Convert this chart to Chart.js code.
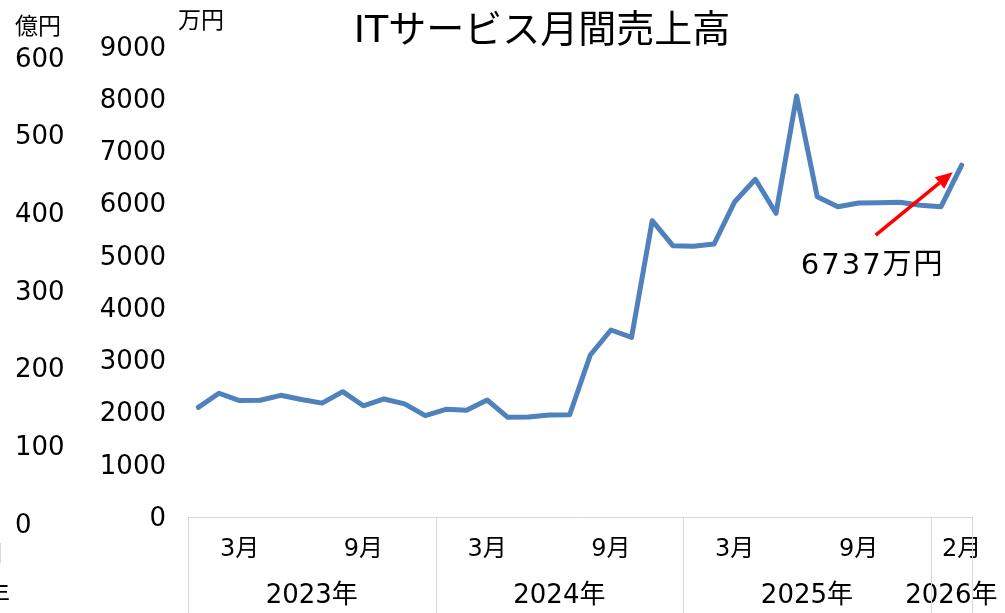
<!DOCTYPE html>
<html><head><meta charset="utf-8">
<script src="https://cdn.jsdelivr.net/npm/chart.js@4"></script>
<style>html,body{margin:0;padding:0;background:#fff}#wrap{width:1005px;height:613px}</style>
</head><body><div id="wrap"><canvas id="c" width="1005" height="613"></canvas></div>
<script>
const chartTitle = 'ITサービス月間売上高';
const categories = [
  '2023年1月','2023年2月','2023年3月','2023年4月','2023年5月','2023年6月','2023年7月','2023年8月','2023年9月','2023年10月','2023年11月','2023年12月',
  '2024年1月','2024年2月','2024年3月','2024年4月','2024年5月','2024年6月','2024年7月','2024年8月','2024年9月','2024年10月','2024年11月','2024年12月',
  '2025年1月','2025年2月','2025年3月','2025年4月','2025年5月','2025年6月','2025年7月','2025年8月','2025年9月','2025年10月','2025年11月','2025年12月',
  '2026年1月','2026年2月'
];
const monthTickLabels = [
  '','','3月','','','','','','9月','','','',
  '','','3月','','','','','','9月','','','',
  '','','3月','','','','','','9月','','','',
  '','2月'
];
const yearLabels = ['2023年','2024年','2025年','2026年'];
const yearMonthCounts = [12,12,12,2];
const salesManYen = [
  2100,2370,2230,2235,2330,2250,2180,2400,2130,2260,2165,1940,
  2062,2043,2240,1909,1915,1953,1959,3102,3581,3441,5674,5195,
  5185,5228,6038,6467,5816,8062,6134,5942,6013,6019,6026,5969,
  5942,6737
];
const okuYenTicks = [0,100,200,300,400,500,600];
const leftAxisTitleOku = '億円';
const leftAxisTitleMan = '万円';
const latestLabel = '6737万円';

const FONT = "'DejaVu Sans', 'Noto Sans CJK JP', sans-serif";
const TXT = '#000000';

const decor = {
  id: 'decor',
  afterDraw(chart) {
    const ctx = chart.ctx;
    const xs = chart.scales.x, ys = chart.scales.y;
    const ca = chart.chartArea;
    ctx.save();
    // title
    ctx.fillStyle = TXT;
    ctx.textAlign = 'center';
    ctx.textBaseline = 'middle';
    ctx.font = "38px " + FONT;
    ctx.fillText(chartTitle, 542, 32);
    // axis unit titles
    ctx.font = "23px " + FONT;
    ctx.textAlign = 'left';
    ctx.fillText(leftAxisTitleOku, 15, 28);
    ctx.fillText(leftAxisTitleMan, 178, 22);
    // year groups and separators
    const half = (xs.getPixelForValue(1) - xs.getPixelForValue(0)) / 2;
    ctx.strokeStyle = '#d9d9d9';
    ctx.lineWidth = 1;
    let start = 0;
    const bounds = [];
    ctx.font = "26px " + FONT;
    ctx.textAlign = 'center';
    yearLabels.forEach((lab, k) => {
      const end = start + yearMonthCounts[k] - 1;
      const l = xs.getPixelForValue(start) - half;
      const r = xs.getPixelForValue(end) + half;
      bounds.push(l); if (k === yearLabels.length - 1) bounds.push(r);
      ctx.fillText(lab, (l + r) / 2, 596);
      start = end + 1;
    });
    bounds.forEach(b => {
      const bx = Math.round(b) + 0.5;
      ctx.beginPath(); ctx.moveTo(bx, ca.bottom); ctx.lineTo(bx, 613); ctx.stroke();
    });
    // annotation arrow
    const li = salesManYen.length - 1;
    const px = xs.getPixelForValue(li), py = ys.getPixelForValue(salesManYen[li]);
    const tipX = px - 9, tipY = py + 7;
    const tailX = px - 86, tailY = py + 70;
    const ang = Math.atan2(tipY - tailY, tipX - tailX);
    const hl = 17, hw = 7.5;
    const bx = tipX - hl * Math.cos(ang), by = tipY - hl * Math.sin(ang);
    ctx.strokeStyle = '#ff0000';
    ctx.fillStyle = '#ff0000';
    ctx.lineWidth = 3.5;
    ctx.beginPath(); ctx.moveTo(tailX, tailY); ctx.lineTo(bx, by); ctx.stroke();
    ctx.beginPath();
    ctx.moveTo(tipX, tipY);
    ctx.lineTo(bx + hw * Math.sin(ang), by - hw * Math.cos(ang));
    ctx.lineTo(bx - hw * Math.sin(ang), by + hw * Math.cos(ang));
    ctx.closePath(); ctx.fill();
    // annotation text
    ctx.fillStyle = TXT;
    ctx.font = "29px " + FONT;
    ctx.textAlign = 'center';
    try { ctx.letterSpacing = '2px'; } catch (e) {}
    ctx.fillText(latestLabel, px - 89, py + 101);
    try { ctx.letterSpacing = '0px'; } catch (e) {}
    // clipped remnants at left edge
    ctx.font = "26px " + FONT;
    ctx.fillText('年', -3, 597);
    ctx.strokeStyle = '#d9d9d9';
    ctx.lineWidth = 1;
    ctx.beginPath(); ctx.moveTo(0.5, 543); ctx.lineTo(0.5, 563); ctx.stroke();
    ctx.restore();
  }
};

new Chart(document.getElementById('c'), {
  type: 'line',
  data: {
    labels: categories,
    datasets: [{
      data: salesManYen,
      borderColor: '#4f81bd',
      borderWidth: 5,
      pointRadius: 0,
      pointHoverRadius: 0,
      tension: 0,
      borderJoinStyle: 'round',
      borderCapStyle: 'round',
      fill: false,
      yAxisID: 'y'
    }]
  },
  options: {
    responsive: false,
    animation: false,
    layout: { padding: { top: 47, right: 33, left: 15, bottom: 0 } },
    plugins: { legend: { display: false }, tooltip: { enabled: false }, title: { display: false } },
    scales: {
      x: {
        type: 'category',
        offset: true,
        grid: { display: false, drawTicks: false },
        border: { display: true, color: '#d9d9d9', width: 1 },
        ticks: {
          autoSkip: false, maxRotation: 0, minRotation: 0, padding: 18,
          font: { family: FONT, size: 24 }, color: TXT,
          callback: (v, i) => monthTickLabels[i]
        },
        afterFit: s => { s.height = 96; }
      },
      y: {
        position: 'left', weight: 0, min: 0, max: 9000,
        grid: { display: false, drawTicks: false },
        border: { display: false },
        ticks: {
          stepSize: 1000, padding: 22, autoSkip: false, labelOffset: 2,
          font: { family: FONT, size: 26 }, color: TXT,
          callback: v => String(v)
        },
        afterFit: s => { s.width = 88; }
      },
      y2: {
        position: 'left', weight: 1, min: 0, max: 605,
        grid: { display: false, drawTicks: false },
        border: { display: false },
        afterBuildTicks: s => { s.ticks = okuYenTicks.map(v => ({ value: v })); },
        ticks: {
          autoSkip: false, crossAlign: 'far', labelOffset: 9, padding: 10,
          font: { family: FONT, size: 26 }, color: TXT,
          callback: v => String(v)
        },
        afterFit: s => { s.width = 85; }
      }
    }
  },
  plugins: [decor]
});
</script>
</body></html>
